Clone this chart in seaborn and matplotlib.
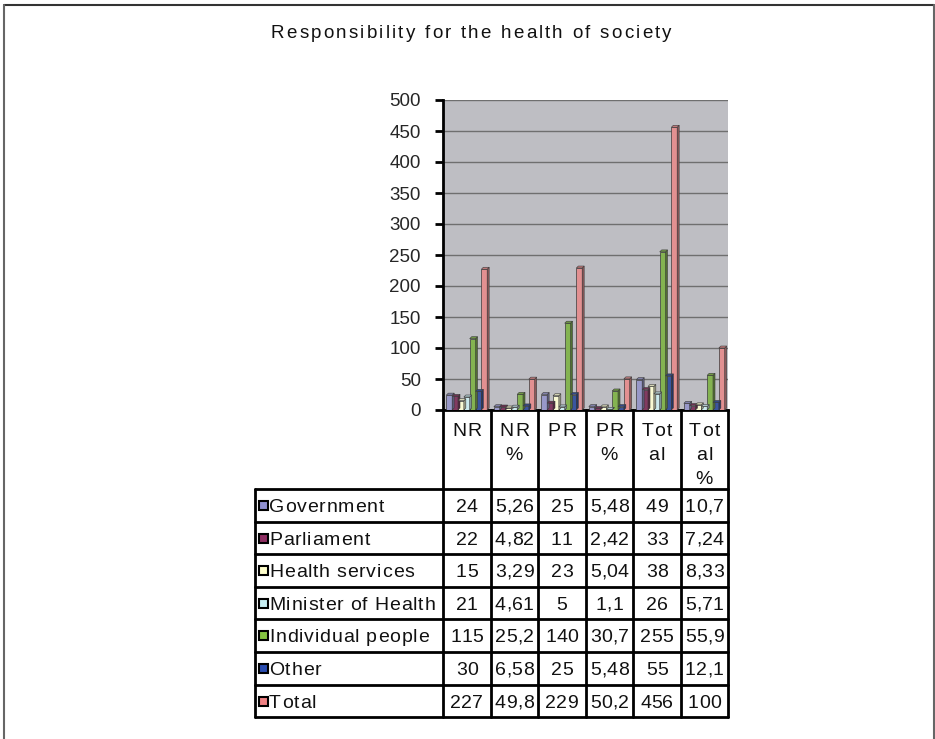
import matplotlib
matplotlib.use("Agg")
import matplotlib.pyplot as plt
import matplotlib.font_manager as fm
import matplotlib.colors as mcolors
from matplotlib import ft2font
from matplotlib.lines import Line2D
from matplotlib.patches import Rectangle, Polygon
import seaborn as sns
import pandas as pd

# ---- data -------------------------------------------------------------
categories = ["NR", "NR %", "PR", "PR %", "Total", "Total %"]
header_labels = ["NR", "NR\n%", "PR", "PR\n%", "Tot\nal", "Tot\nal\n%"]

series_names = ["Government", "Parliament", "Health services",
                "Minister of Health", "Individual people", "Other", "Total"]

government = [24, 5.26, 25, 5.48, 49, 10.7]
parliament = [22, 4.82, 11, 2.42, 33, 7.24]
health_services = [15, 3.29, 23, 5.04, 38, 8.33]
minister_of_health = [21, 4.61, 5, 1.1, 26, 5.71]
individual_people = [115, 25.2, 140, 30.7, 255, 55.9]
other = [30, 6.58, 25, 5.48, 55, 12.1]
total = [227, 49.8, 229, 50.2, 456, 100]

series_values = [government, parliament, health_services, minister_of_health,
                 individual_people, other, total]

colors = ["#9090D0", "#8E2E62", "#FFFFCC", "#C6EEF2",
          "#84C341", "#2A4DB0", "#F08284"]

y_ticks = [0, 50, 100, 150, 200, 250, 300, 350, 400, 450, 500]

rows = []
for name, vals in zip(series_names, series_values):
    for cat, v in zip(categories, vals):
        rows.append({"category": cat, "series": name, "value": v})
df = pd.DataFrame(rows)

# ---- fonts ------------------------------------------------------------
sns.set_theme(style="white")
installed = {f.name for f in fm.fontManager.ttflist}
base_font = "Liberation Sans" if "Liberation Sans" in installed else "DejaVu Sans"
plt.rcParams["font.family"] = [base_font, "DejaVu Sans"]

W, H, DPI = 935, 739, 100
fig = plt.figure(figsize=(W / DPI, H / DPI), dpi=DPI)
fig.patch.set_facecolor("white")

ft = ft2font.FT2Font(fm.findfont(fm.FontProperties(family=base_font)))


def fx(px):
    return px / W


def fy(py):
    return 1 - py / H


def advances(s, size):
    ft.set_size(size, DPI)
    out = []
    for ch in s:
        g = ft.load_char(ord(ch), flags=ft2font.LoadFlags.NO_HINTING)
        out.append(g.linearHoriAdvance / 65536.0)
    return out


def tracked_text(x, y_base, s, size, tracking=0.0, ha="left", color="#111111"):
    """Draw a string with extra letter spacing; x, y_base in pixels."""
    adv = advances(s, size)
    width = sum(adv) + tracking * (len(s) - 1)
    if ha == "center":
        x = x - width / 2
    elif ha == "right":
        x = x - width
    for ch, a in zip(s, adv):
        if not ch.isspace():
            fig.text(fx(x), fy(y_base), ch, ha="left", va="baseline",
                     fontsize=size, color=color)
        x += a + tracking


CAP = 0.716 * 100 / 72  # cap height per point, in pixels

# plot area: x from 443 to 728 px, y from 100 (500) to 410 (0) px
ax = fig.add_axes([fx(443), fy(410), fx(728) - fx(443), (410 - 100) / H])
ax.set_facecolor("#BEBEC3")

sns.barplot(data=df, x="category", y="value", hue="series",
            order=categories, hue_order=series_names, palette=colors,
            width=0.86, edgecolor="#3a3a3a", linewidth=0.5,
            legend=False, ax=ax, zorder=3)

ax.set_xlim(-0.5, len(categories) - 0.5)
ax.set_ylim(0, 500)
ax.set_yticks(y_ticks)
ax.set_yticklabels([str(t) for t in y_ticks], fontsize=13.5)
ax.set_xticks([])
ax.set_xlabel("")
ax.set_ylabel("")
ax.yaxis.grid(True, color="#6f6f6f", linewidth=1.0, zorder=0)
ax.set_axisbelow(True)
ax.tick_params(axis="y", left=True, length=6, width=2, color="black", pad=10)
for side in ["top", "right"]:
    ax.spines[side].set_visible(False)
ax.spines["left"].set_color("black")
ax.spines["left"].set_linewidth(2)
ax.spines["bottom"].set_color("black")
ax.spines["bottom"].set_linewidth(2)

# give each seaborn bar a shallow extruded side and top face
depth = 2.0  # pixels
to_data = ax.transData.inverted()
for bar in list(ax.patches):
    if not isinstance(bar, Rectangle) or bar.get_height() <= 0:
        continue
    x0, y0 = bar.get_x(), bar.get_y()
    x1, y1 = x0 + bar.get_width(), y0 + bar.get_height()
    (px0, py0), (px1, py1) = ax.transData.transform([(x0, y0), (x1, y1)])
    base_rgb = mcolors.to_rgb(bar.get_facecolor())
    side = [c * 0.62 for c in base_rgb]
    top = [min(1, c * 0.85) for c in base_rgb]
    side_pts = to_data.transform([(px1, py0), (px1 + depth, py0 + depth),
                                  (px1 + depth, py1 + depth), (px1, py1)])
    top_pts = to_data.transform([(px0, py1), (px0 + depth, py1 + depth),
                                 (px1 + depth, py1 + depth), (px1, py1)])
    for pts, col in [(side_pts, side), (top_pts, top)]:
        ax.add_patch(Polygon(pts, closed=True, facecolor=col,
                             edgecolor="#3a3a3a", linewidth=0.4,
                             zorder=3, clip_on=False))

# ---- title --------------------------------------------------------------
tracked_text(471, 38, "Responsibility for the health of society", 13.5,
             tracking=2.2, ha="center")

# ---- data table below the plot ------------------------------------------
edges = [i - 0.5 for i in range(len(categories) + 1)]
edge_px = [ax.transData.transform((e, 0))[0] for e in edges]
centre_px = [ax.transData.transform((i, 0))[0] for i in range(len(categories))]
row_y = [489, 522, 554, 587, 619, 652, 685, 717]
table_left = 255
lw = 2.0

# column edges run from the axis down to the last row
for xe in edge_px:
    fig.add_artist(Line2D([fx(xe), fx(xe)], [fy(410), fy(row_y[-1])],
                          color="black", linewidth=lw))
# left border of the label column
fig.add_artist(Line2D([fx(table_left), fx(table_left)], [fy(row_y[0]), fy(row_y[-1])],
                      color="black", linewidth=lw))
# row rules
for yy in row_y:
    fig.add_artist(Line2D([fx(table_left), fx(edge_px[-1])], [fy(yy), fy(yy)],
                          color="black", linewidth=lw))

# header labels (wrapped category names)
hdr_size = 14
for xc, lab in zip(centre_px, header_labels):
    for k, line in enumerate(lab.split("\n")):
        tracked_text(xc, 436 + 24 * k, line, hdr_size, tracking=1.5, ha="center")


def fmt(v):
    return f"{v:g}".replace(".", ",")


lab_size = 14
for r, (name, vals, col) in enumerate(zip(series_names, series_values, colors)):
    yc = (row_y[r] + row_y[r + 1]) / 2
    base = yc + CAP * lab_size / 2
    # legend key square
    fig.add_artist(Rectangle((fx(259), fy(yc + 4.5)), 9 / W, 9 / H,
                             facecolor=col, edgecolor="black", linewidth=1.5))
    tracked_text(269, base, name, lab_size, tracking=0.85)
    for xc, v in zip(centre_px, vals):
        tracked_text(xc, base, fmt(v), lab_size, tracking=0.3, ha="center")

# ---- outer frame --------------------------------------------------------
for xs, ys, c in [([4, 934], [5, 5], "#333333"),
                  ([4, 4], [5, 739], "#666666"),
                  ([934, 934], [5, 739], "#666666")]:
    fig.add_artist(Line2D([fx(x) for x in xs], [fy(y) for y in ys],
                          color=c, linewidth=1.5))

fig.savefig("out.png", dpi=DPI)
